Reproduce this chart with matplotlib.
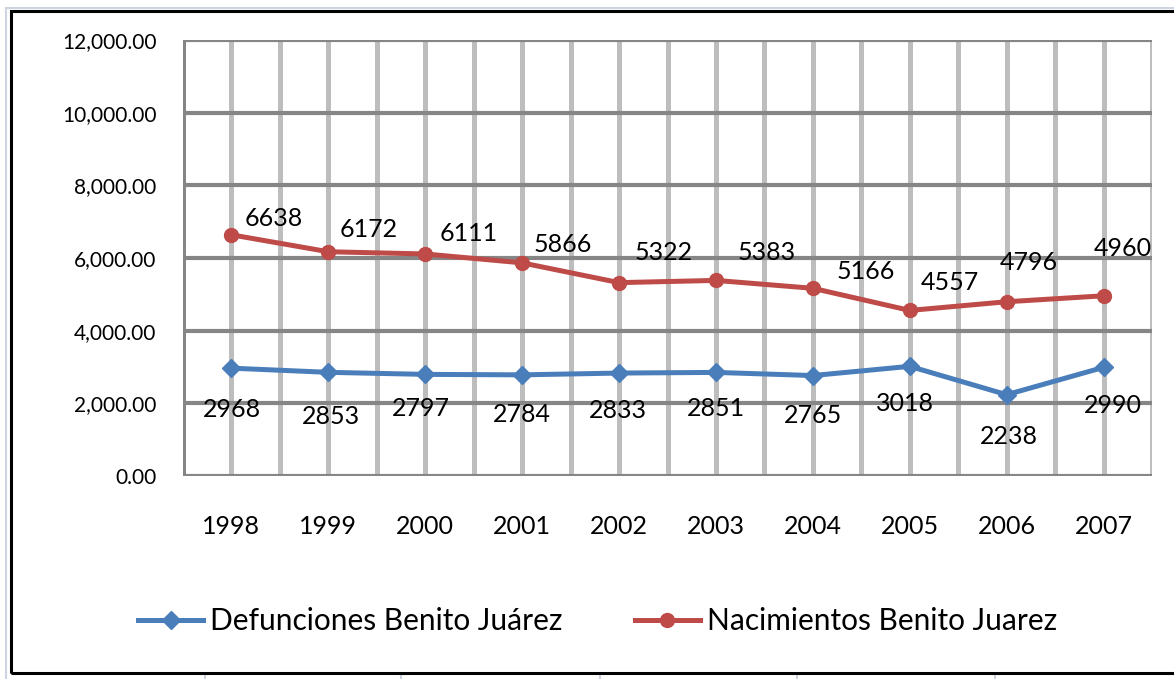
import matplotlib
matplotlib.use("Agg")
import matplotlib.pyplot as plt
from matplotlib.lines import Line2D
from matplotlib.ticker import FuncFormatter
from matplotlib.patches import Rectangle

years = ["1998", "1999", "2000", "2001", "2002", "2003", "2004", "2005", "2006", "2007"]
defunciones = [2968, 2853, 2797, 2784, 2833, 2851, 2765, 3018, 2238, 2990]
nacimientos = [6638, 6172, 6111, 5866, 5322, 5383, 5166, 4557, 4796, 4960]
yticks = [0, 2000, 4000, 6000, 8000, 10000, 12000]
label_def = "Defunciones Benito Juárez"
label_nac = "Nacimientos Benito Juarez"

# label offsets in pixels (dx, dy upward)
off_nac = [(42, 16), (40, 22), (43, 20), (41, 18), (45, 30), (51, 28), (53, 17), (40, 28), (22, 39), (19, 47)]
off_def = [(0, -41), (3, -44), (-4, -34), (0, -40), (-1, -37), (0, -36), (0, -40), (-5, -37), (2, -42), (9, -38)]

FONT = ["Lato", "DejaVu Sans"]
plt.rcParams["font.family"] = FONT

BLUE = "#4A7EBB"
RED = "#BE4B48"
DARK = "#868686"
LIGHT = "#BDBDBD"

W, H = 1174, 679
fig = plt.figure(figsize=(W / 100, H / 100), dpi=100)
ax = fig.add_axes([183 / W, 1 - 476 / H, (1152 - 183) / W, (476 - 40) / H])

x = list(range(len(years)))
ax.set_xlim(-0.5, len(years) - 0.5)
ax.set_ylim(0, 12000)

# vertical light grid at categories and boundaries
for i in range(len(years)):
    ax.axvline(i, color=LIGHT, lw=3.6, zorder=1)
for i in range(len(years) + 1):
    ax.axvline(i - 0.5, color=LIGHT, lw=3.6, zorder=1)
# horizontal dark grid
for v in yticks:
    ax.axhline(v, color=DARK, lw=3.0, zorder=2)

for s in ax.spines.values():
    s.set_visible(False)
ax.axvline(-0.5, color=DARK, lw=3.6, zorder=2.5)

ax.plot(x, defunciones, color=BLUE, lw=3.6, marker="D", ms=9, zorder=5)
ax.plot(x, nacimientos, color=RED, lw=3.6, marker="o", ms=10, zorder=5)

for i, v in enumerate(nacimientos):
    ax.annotate(str(v), (x[i], v), xytext=off_nac[i], textcoords="offset pixels",
                ha="center", va="center", fontsize=18, color="black", zorder=6)
for i, v in enumerate(defunciones):
    ax.annotate(str(v), (x[i], v), xytext=off_def[i], textcoords="offset pixels",
                ha="center", va="center", fontsize=18, color="black", zorder=6)

ax.set_xticks(x)
ax.set_xticklabels(years, fontsize=18)
ax.set_yticks(yticks)
ax.yaxis.set_major_formatter(FuncFormatter(lambda v, p: f"{v:,.2f}"))
ax.tick_params(axis="y", length=0, pad=19, labelsize=15)
ax.tick_params(axis="x", length=0, pad=28, labelsize=18)

handles = [
    Line2D([], [], color=BLUE, lw=3.6, marker="D", ms=9),
    Line2D([], [], color=RED, lw=3.6, marker="o", ms=10),
]
fig.legend(handles, [label_def, label_nac], loc="center", bbox_to_anchor=(0.509, 1 - 621 / H),
           ncol=2, frameon=False, fontsize=21.5, handlelength=2.2, handletextpad=0.23,
           columnspacing=2.4)

# outer chart border
fig.add_artist(Rectangle((11 / W, 1 - 673 / H), 1.2, (673 - 11) / H, transform=fig.transFigure,
                         fill=False, ec="black", lw=2.2, zorder=10))
# light spreadsheet frame lines
fig.add_artist(Line2D([6 / W, 6 / W], [0, 1 - 8 / H], transform=fig.transFigure, color="#CDD3E0", lw=1.5))
fig.add_artist(Line2D([6 / W, 1], [1 - 8 / H, 1 - 8 / H], transform=fig.transFigure, color="#CDD3E0", lw=1.5))
for px in [205, 401, 600, 797, 995]:
    fig.add_artist(Line2D([px / W, px / W], [0, 1 - 675 / H], transform=fig.transFigure, color="#CDD3E0", lw=1.5))

fig.savefig("out.png", dpi=100)
